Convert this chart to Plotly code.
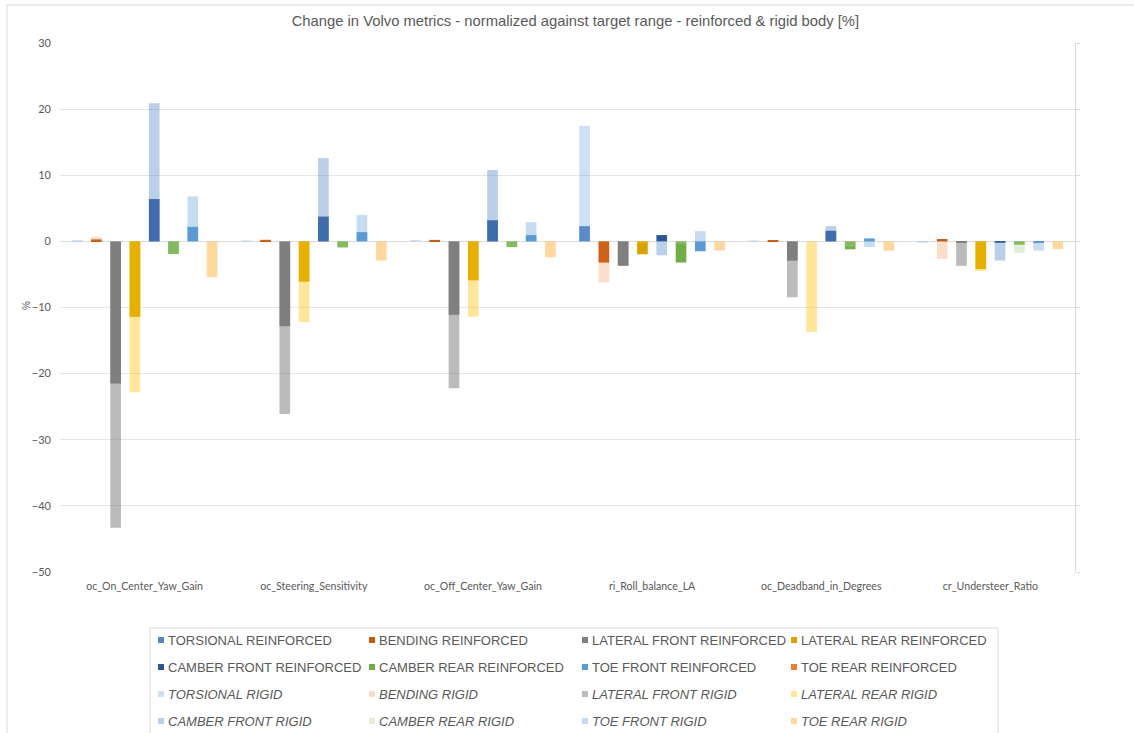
import plotly.graph_objects as go

# ---- data -------------------------------------------------------------
categories = [
    "oc_On_Center_Yaw_Gain",
    "oc_Steering_Sensitivity",
    "oc_Off_Center_Yaw_Gain",
    "ri_Roll_balance_LA",
    "oc_Deadband_in_Degrees",
    "cr_Understeer_Ratio",
]

reinforced_names = [
    "TORSIONAL REINFORCED", "BENDING REINFORCED",
    "LATERAL FRONT REINFORCED", "LATERAL REAR REINFORCED",
    "CAMBER FRONT REINFORCED", "CAMBER REAR REINFORCED",
    "TOE FRONT REINFORCED", "TOE REAR REINFORCED",
]
rigid_names = [
    "TORSIONAL RIGID", "BENDING RIGID",
    "LATERAL FRONT RIGID", "LATERAL REAR RIGID",
    "CAMBER FRONT RIGID", "CAMBER REAR RIGID",
    "TOE FRONT RIGID", "TOE REAR RIGID",
]

torsional_reinforced = [0.0, 0.0, 0.0, 2.3, 0.0, 0.0]
bending_reinforced = [0.3, 0.2, 0.15, -3.2, 0.2, 0.35]
lateral_front_reinforced = [-21.5, -12.85, -11.1, -3.7, -2.9, -0.25]
lateral_rear_reinforced = [-11.4, -6.1, -5.9, -1.95, 0.0, -4.2]
camber_front_reinforced = [6.4, 3.75, 3.2, 0.95, 1.6, -0.15]
camber_rear_reinforced = [-1.9, -0.9, -0.85, -3.2, -1.2, -0.5]
toe_front_reinforced = [2.2, 1.4, 0.95, -1.5, 0.45, -0.15]
toe_rear_reinforced = [0.0, 0.0, 0.0, 0.0, 0.0, 0.0]

torsional_rigid = [0.2, 0.15, 0.2, 17.5, 0.15, -0.2]
bending_rigid = [0.7, 0.35, 0.3, -6.2, 0.2, -2.65]
lateral_front_rigid = [-43.3, -26.1, -22.2, -3.6, -8.45, -3.7]
lateral_rear_rigid = [-22.8, -12.2, -11.4, -0.3, -13.7, -4.45]
camber_front_rigid = [20.9, 12.6, 10.8, -2.1, 2.3, -2.9]
camber_rear_rigid = [-1.95, -0.95, -0.9, -0.4, -0.85, -1.75]
toe_front_rigid = [6.8, 4.0, 2.9, 1.55, -0.85, -1.4]
toe_rear_rigid = [-5.4, -2.9, -2.4, -1.4, -1.4, -1.15]

y_ticks = [30, 20, 10, 0, -10, -20, -30, -40, -50]

# ---- styling ----------------------------------------------------------
reinforced_colors = [
    "#5a86c0", "#c55a11", "#7f7f7f", "#d8a300",
    "#2f5597", "#70ad47", "#5b9bd5", "#ed7d31",
]
# rigid series sit on top, semi-transparent
rigid_colors = [
    "rgba(91,155,213,0.30)", "rgba(237,125,49,0.25)",
    "rgba(127,127,127,0.53)", "rgba(255,192,0,0.40)",
    "rgba(91,140,200,0.42)", "rgba(169,209,142,0.35)",
    "rgba(91,155,213,0.35)", "rgba(255,182,80,0.55)",
]

reinforced_values = [
    torsional_reinforced, bending_reinforced, lateral_front_reinforced,
    lateral_rear_reinforced, camber_front_reinforced, camber_rear_reinforced,
    toe_front_reinforced, toe_rear_reinforced,
]
rigid_values = [
    torsional_rigid, bending_rigid, lateral_front_rigid, lateral_rear_rigid,
    camber_front_rigid, camber_rear_rigid, toe_front_rigid, toe_rear_rigid,
]

W, H = 1134, 733
ML, MR, MT, MB = 60, 59, 43, 161
PW, PH = W - ML - MR, H - MT - MB

TEXT = "#595959"
GRID = "#e6e6e6"
FRAME = "#d9d9d9"

BAR_W = 0.063
STEP = 0.114


def px_x(x):
    return (x - ML) / PW


def px_y(y):
    return (H - MB - y) / PH


fig = go.Figure()

for i, (name, vals, col) in enumerate(zip(reinforced_names, reinforced_values, reinforced_colors)):
    fig.add_trace(go.Bar(
        x=categories, y=vals, name=name,
        offset=(i - 3.5) * STEP - BAR_W / 2, width=BAR_W,
        marker=dict(color=col, line=dict(width=0)),
        showlegend=False,
    ))

for i, (name, vals, col) in enumerate(zip(rigid_names, rigid_values, rigid_colors)):
    fig.add_trace(go.Bar(
        x=categories, y=vals, name=name,
        offset=(i - 3.5) * STEP - BAR_W / 2, width=BAR_W,
        marker=dict(color=col, line=dict(width=0)),
        showlegend=False,
    ))

# secondary axis only carries the right-hand line and tick marks
fig.add_trace(go.Scatter(x=[None], y=[None], yaxis="y2", showlegend=False, hoverinfo="skip"))

shapes = [
    # outer chart frame
    dict(type="rect", xref="paper", yref="paper",
         x0=px_x(7), x1=px_x(1145), y0=px_y(745), y1=px_y(5),
         line=dict(color=FRAME, width=1), fillcolor="rgba(0,0,0,0)", layer="below"),
    # legend box
    dict(type="rect", xref="paper", yref="paper",
         x0=px_x(150), x1=px_x(998), y0=px_y(745), y1=px_y(628),
         line=dict(color=FRAME, width=1), fillcolor="rgba(0,0,0,0)"),
]
annotations = [
    dict(text="%", xref="paper", yref="paper", x=px_x(26), y=px_y(306),
         xanchor="center", yanchor="middle",
         textangle=-90, showarrow=False, font=dict(family="Liberation Sans", size=10, color=TEXT)),
]

# legend: four columns, reinforced rows first, then rigid rows
col_x = [161, 372, 585, 794]
row_y = [640, 667, 694, 721]
legend_names = reinforced_names + rigid_names
legend_colors = reinforced_colors + rigid_colors
for k, (name, col) in enumerate(zip(legend_names, legend_colors)):
    r, c = divmod(k, 4)
    mx, my = col_x[c], row_y[r]
    shapes.append(dict(type="rect", xref="paper", yref="paper",
                       x0=px_x(mx - 3), x1=px_x(mx + 3), y0=px_y(my + 3), y1=px_y(my - 3),
                       line=dict(width=0), fillcolor=col))
    label = f"<i>{name}</i>" if r >= 2 else name
    annotations.append(dict(text=label, xref="paper", yref="paper",
                            x=px_x(mx + 5), y=px_y(my), xanchor="left", yanchor="middle",
                            showarrow=False,
                            font=dict(family="Liberation Sans", size=13, color=TEXT)))

fig.update_layout(
    width=W, height=H,
    margin=dict(l=ML, r=MR, t=MT, b=MB, pad=0),
    paper_bgcolor="white", plot_bgcolor="white",
    barmode="overlay",
    title=dict(text="Change in Volvo metrics - normalized against target range - reinforced & rigid body [%]",
               x=px_x(575), xanchor="center", y=1 - 21 / H, yanchor="middle",
               font=dict(family="Liberation Sans", size=14.8, color=TEXT)),
    xaxis=dict(type="category", categoryorder="array", categoryarray=categories,
               range=[-0.5, len(categories) - 0.5],
               showgrid=False, showline=False, zeroline=False, ticks="",
               ticklabelstandoff=6,
               tickfont=dict(family="Lato", size=10.6, color=TEXT)),
    yaxis=dict(range=[-50, 30], tickvals=y_ticks, showgrid=True, gridcolor=GRID, gridwidth=1,
               zeroline=True, zerolinecolor="#dcdcdc", zerolinewidth=1,
               showline=False, ticks="", ticklabelstandoff=8,
               tickfont=dict(family="Lato", size=11, color=TEXT)),
    yaxis2=dict(range=[-50, 30], tickvals=y_ticks, overlaying="y", side="right",
                showline=True, linecolor=FRAME, linewidth=1,
                ticks="outside", ticklen=4, tickcolor=FRAME,
                showticklabels=False, showgrid=False, zeroline=False),
    shapes=shapes,
    annotations=annotations,
    showlegend=False,
)

fig.write_html("out.html")
